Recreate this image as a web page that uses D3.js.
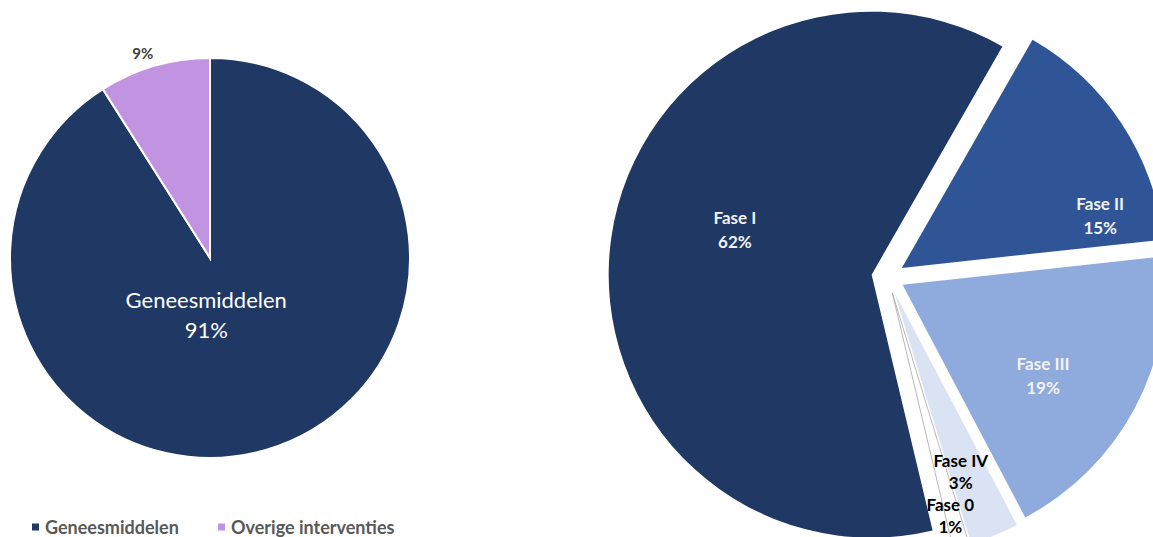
<!DOCTYPE html>
<html>
<head>
<meta charset="utf-8">
<script src="https://cdn.jsdelivr.net/npm/d3@7"></script>
<style>
    body { margin: 0; background: #fff; }
    svg { display: block; font-family: Lato, "Open Sans", sans-serif; }
</style>
</head>
<body>
<div id="chart"></div>
<script>
// Linker taart: geneesmiddelen vs overige interventies
const leftCategories = ["Geneesmiddelen", "Overige interventies"];
const leftValues = [91, 9];
const leftColors = ["#203864", "#c193e0"];

// Rechter taart: fasen (volgorde zoals in Excel, met de klok mee)
const phaseCategories = ["Fase 0", "Fase I", "Fase II", "Fase III", "Fase IV"];
const phaseValues = [1, 62, 15, 19, 3];
const phaseColors = ["#ffffff", "#203864", "#2f5597", "#8faadc", "#dae3f3"];
const phaseLabelColors = ["#000000", "#f2f2f2", "#f2f2f2", "#f2f2f2", "#000000"];

const W = 1153, H = 537;
const rad = Math.PI / 180;

const svg = d3.select("#chart")
    .append("svg")
    .attr("width", W)
    .attr("height", H);

// ---------- Linker taart ----------
const leftR = 200;
const left = svg.append("g").attr("transform", "translate(210,258)");

const leftPie = d3.pie().sort(null).value(d => d.value);
const leftArcs = leftPie(leftCategories.map((c, i) => ({ name: c, value: leftValues[i], color: leftColors[i] })));
const leftArc = d3.arc().innerRadius(0).outerRadius(leftR);

left.selectAll("path")
    .data(leftArcs)
    .enter()
    .append("path")
    .attr("d", leftArc)
    .attr("fill", d => d.data.color)
    .attr("stroke", "#fff")
    .attr("stroke-width", 2);

// labels: grote in het vlak, kleine buiten de rand
const mid = d => (d.startAngle + d.endAngle) / 2;
const bigArc = leftArcs[0];
const [bx, by] = d3.pointRadial(mid(bigArc) + 20 * rad, leftR * 0.285);
const bigLabel = left.append("text")
    .attr("text-anchor", "middle")
    .attr("fill", "#fff")
    .style("font-size", "22px");
bigLabel.append("tspan").attr("x", bx).attr("y", by - 15).attr("dy", "0.35em").text(bigArc.data.name);
bigLabel.append("tspan").attr("x", bx).attr("y", by + 15).attr("dy", "0.35em").text(bigArc.data.value + "%");

const smallArc = leftArcs[1];
const [sx, sy] = d3.pointRadial(mid(smallArc) - 2 * rad, leftR + 15);
left.append("text")
    .attr("x", sx)
    .attr("y", sy)
    .attr("dy", "0.35em")
    .attr("text-anchor", "middle")
    .attr("fill", "#404040")
    .style("font-size", "15px")
    .style("font-weight", "bold")
    .text(smallArc.data.value + "%");

// legenda
const legend = svg.append("g").attr("class", "legend");
const legendX = [32, 218];
leftCategories.forEach((c, i) => {
    const item = legend.append("g").attr("transform", `translate(${legendX[i]},527)`);
    item.append("rect")
        .attr("x", 0).attr("y", -3.5)
        .attr("width", 7).attr("height", 7)
        .attr("fill", leftColors[i]);
    item.append("text")
        .attr("x", 13)
        .attr("y", 0)
        .attr("dy", "0.38em")
        .attr("fill", "#595959")
        .style("font-size", "18px")
        .style("font-weight", "bold")
        .text(c);
});

// ---------- Rechter taart (uitgetrokken segmenten) ----------
const rightR = 263;
const explode = 16.5;
const right = svg.append("g").attr("transform", "translate(888,277)");

const rightPie = d3.pie().sort(null).value(d => d.value)
    .startAngle(163 * rad).endAngle(163 * rad + 2 * Math.PI);
const rightArcs = rightPie(phaseCategories.map((c, i) => ({
    name: c, value: phaseValues[i], color: phaseColors[i], labelColor: phaseLabelColors[i]
})));
const rightArc = d3.arc().innerRadius(0).outerRadius(rightR);

// labelplaatsing: hoekverschuiving (graden), straal als fractie, halve regelafstand
const labelPlacement = {
    "Fase 0": [0.6, 0.875, 11],
    "Fase I": [9.9, 0.547, 12],
    "Fase II": [18.5, 0.78, 12],
    "Fase III": [5, 0.637, 12],
    "Fase IV": [2.1, 0.728, 11]
};

const slices = right.selectAll(".slice")
    .data(rightArcs)
    .enter()
    .append("g")
    .attr("class", "slice")
    .attr("transform", d => {
        const [ox, oy] = d3.pointRadial(mid(d), explode);
        return `translate(${ox},${oy})`;
    });

slices.append("path")
    .attr("d", rightArc)
    .attr("fill", d => d.data.color)
    .attr("stroke", d => d.data.name === "Fase 0" ? "#a6a6a6" : "none")
    .attr("stroke-width", 0.8);

// labels bovenop alle segmenten
slices.each(function(d) {
    const [shift, frac, half] = labelPlacement[d.data.name];
    const [ox, oy] = d3.pointRadial(mid(d), explode);
    const [lx, ly] = d3.pointRadial(mid(d) + shift * rad, rightR * frac);
    const t = right.append("text")
        .attr("text-anchor", "middle")
        .attr("fill", d.data.labelColor)
        .style("font-size", "17px")
        .style("font-weight", "bold");
    t.append("tspan").attr("x", ox + lx).attr("y", oy + ly - half).attr("dy", "0.35em").text(d.data.name);
    t.append("tspan").attr("x", ox + lx).attr("y", oy + ly + half).attr("dy", "0.35em").text(d.data.value + "%");
});
</script>
</body>
</html>
